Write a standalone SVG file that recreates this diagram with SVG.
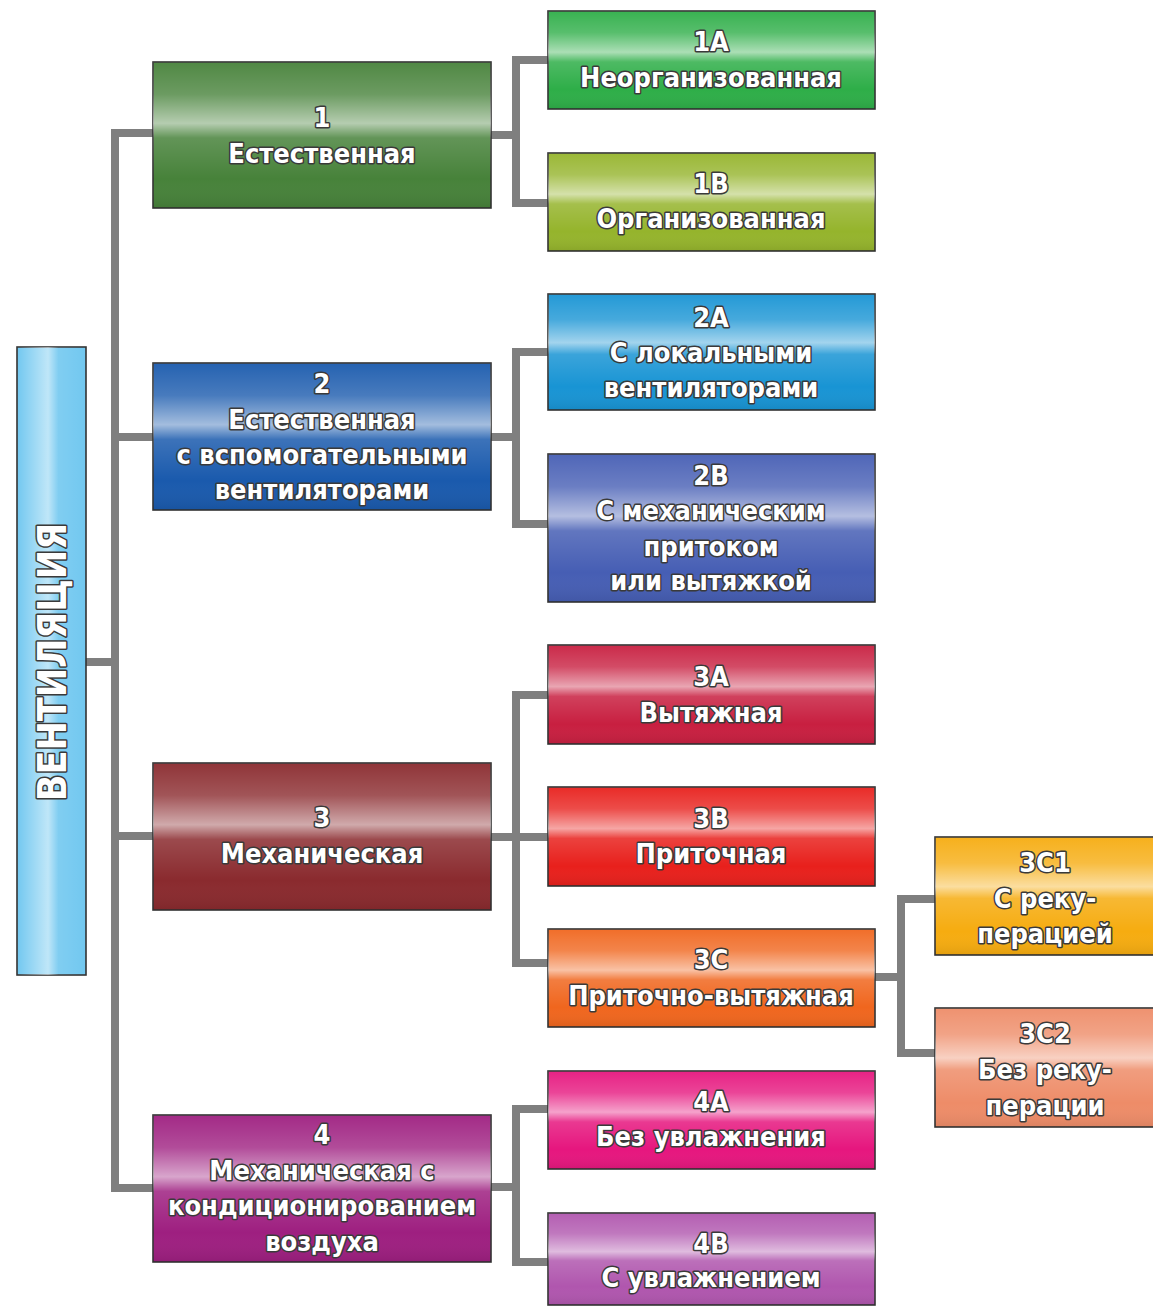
<svg xmlns="http://www.w3.org/2000/svg" width="1153" height="1310" viewBox="0 0 1153 1310">
<defs>
<linearGradient id="gloss" x1="0" y1="0" x2="0" y2="1">
<stop offset="0" stop-color="#fff" stop-opacity="0.05"/>
<stop offset="0.22" stop-color="#fff" stop-opacity="0.2"/>
<stop offset="0.42" stop-color="#fff" stop-opacity="0.6"/>
<stop offset="0.52" stop-color="#fff" stop-opacity="0.15"/>
<stop offset="0.8" stop-color="#fff" stop-opacity="0"/>
<stop offset="1" stop-color="#000" stop-opacity="0.08"/>
</linearGradient>
<linearGradient id="glossH" x1="0" y1="0" x2="1" y2="0">
<stop offset="0" stop-color="#fff" stop-opacity="0"/>
<stop offset="0.45" stop-color="#fff" stop-opacity="0.55"/>
<stop offset="0.6" stop-color="#fff" stop-opacity="0.1"/>
<stop offset="1" stop-color="#fff" stop-opacity="0"/>
</linearGradient>
</defs>
<style>
.box{stroke:#333;stroke-width:1.6}
.gl{fill:url(#gloss)}
.t{font-family:"DejaVu Sans Condensed","DejaVu Sans","Liberation Sans",sans-serif;font-weight:bold;font-size:27px;fill:#fff;stroke:#3a3a3a;stroke-width:3;paint-order:stroke fill;text-anchor:middle;stroke-linejoin:round}
.c{fill:none;stroke:#7f7f7f;stroke-width:8}
</style>
<rect width="1153" height="1310" fill="#fff"/>
<g id="connectors">
<path class="c" d="M86,662 H115 M115,130 V1191 M111,133 H153 M111,437 H153 M111,836 H153 M111,1188 H153"/>
<path class="c" d="M491,135 H516 M548,60 H516 V203 H548"/>
<path class="c" d="M491,437 H516 M548,352 H516 V524 H548"/>
<path class="c" d="M491,837 H548 M548,695 H516 V963 H548"/>
<path class="c" d="M875,977 H901 M935,899 H901 V1053 H935"/>
<path class="c" d="M491,1187 H516 M548,1109 H516 V1262 H548"/>
</g>
<g id="root">
<rect class="box" x="17" y="347" width="69" height="628" fill="#72c8f0"/>
<rect x="17" y="347" width="69" height="628" fill="url(#glossH)"/>
<text class="t" style="font-size:39px" transform="translate(66,662) rotate(-90)">ВЕНТИЛЯЦИЯ</text>
</g>
<g id="n1">
<rect class="box" x="153" y="62" width="338" height="146" fill="#47823a"/>
<rect class="gl" x="153" y="62" width="338" height="146"/>
<text class="t" x="322" y="127">1</text>
<text class="t" x="322" y="163">Естественная</text>
</g>
<g id="n1a">
<rect class="box" x="548" y="11" width="327" height="98" fill="#2eae48"/>
<rect class="gl" x="548" y="11" width="327" height="98"/>
<text class="t" x="711" y="51">1A</text>
<text class="t" x="711" y="87">Неорганизованная</text>
</g>
<g id="n1b">
<rect class="box" x="548" y="153" width="327" height="98" fill="#95b42c"/>
<rect class="gl" x="548" y="153" width="327" height="98"/>
<text class="t" x="711" y="193">1B</text>
<text class="t" x="711" y="228">Организованная</text>
</g>
<g id="n2">
<rect class="box" x="153" y="363" width="338" height="147" fill="#1a5aad"/>
<rect class="gl" x="153" y="363" width="338" height="147"/>
<text class="t" x="322" y="393">2</text>
<text class="t" x="322" y="429">Естественная</text>
<text class="t" x="322" y="464">с вспомогательными</text>
<text class="t" x="322" y="499">вентиляторами</text>
</g>
<g id="n2a">
<rect class="box" x="548" y="294" width="327" height="116" fill="#1894d4"/>
<rect class="gl" x="548" y="294" width="327" height="116"/>
<text class="t" x="711" y="327">2A</text>
<text class="t" x="711" y="362">С локальными</text>
<text class="t" x="711" y="397">вентиляторами</text>
</g>
<g id="n2b">
<rect class="box" x="548" y="454" width="327" height="148" fill="#465eb4"/>
<rect class="gl" x="548" y="454" width="327" height="148"/>
<text class="t" x="711" y="485">2B</text>
<text class="t" x="711" y="520">С механическим</text>
<text class="t" x="711" y="556">притоком</text>
<text class="t" x="711" y="590">или вытяжкой</text>
</g>
<g id="n3">
<rect class="box" x="153" y="763" width="338" height="147" fill="#8a2a2e"/>
<rect class="gl" x="153" y="763" width="338" height="147"/>
<text class="t" x="322" y="827">3</text>
<text class="t" x="322" y="863">Механическая</text>
</g>
<g id="n3a">
<rect class="box" x="548" y="645" width="327" height="99" fill="#c81f40"/>
<rect class="gl" x="548" y="645" width="327" height="99"/>
<text class="t" x="711" y="686">3A</text>
<text class="t" x="711" y="722">Вытяжная</text>
</g>
<g id="n3b">
<rect class="box" x="548" y="787" width="327" height="99" fill="#e8201c"/>
<rect class="gl" x="548" y="787" width="327" height="99"/>
<text class="t" x="711" y="828">3B</text>
<text class="t" x="711" y="863">Приточная</text>
</g>
<g id="n3c">
<rect class="box" x="548" y="929" width="327" height="98" fill="#f0661e"/>
<rect class="gl" x="548" y="929" width="327" height="98"/>
<text class="t" x="711" y="969">3C</text>
<text class="t" x="711" y="1005">Приточно-вытяжная</text>
</g>
<g id="n3c1">
<rect class="box" x="935" y="837" width="222" height="118" fill="#f6ac10"/>
<rect class="gl" x="935" y="837" width="222" height="118"/>
<text class="t" x="1045" y="872">3C1</text>
<text class="t" x="1045" y="908">С реку-</text>
<text class="t" x="1045" y="943">перацией</text>
</g>
<g id="n3c2">
<rect class="box" x="935" y="1008" width="222" height="119" fill="#ee8c68"/>
<rect class="gl" x="935" y="1008" width="222" height="119"/>
<text class="t" x="1045" y="1043">3C2</text>
<text class="t" x="1045" y="1079">Без реку-</text>
<text class="t" x="1045" y="1115">перации</text>
</g>
<g id="n4">
<rect class="box" x="153" y="1115" width="338" height="147" fill="#9e1f80"/>
<rect class="gl" x="153" y="1115" width="338" height="147"/>
<text class="t" x="322" y="1144">4</text>
<text class="t" x="322" y="1180">Механическая с</text>
<text class="t" x="322" y="1215">кондиционированием</text>
<text class="t" x="322" y="1251">воздуха</text>
</g>
<g id="n4a">
<rect class="box" x="548" y="1071" width="327" height="98" fill="#e6167e"/>
<rect class="gl" x="548" y="1071" width="327" height="98"/>
<text class="t" x="711" y="1111">4A</text>
<text class="t" x="711" y="1146">Без увлажнения</text>
</g>
<g id="n4b">
<rect class="box" x="548" y="1213" width="327" height="92" fill="#b056ae"/>
<rect class="gl" x="548" y="1213" width="327" height="92"/>
<text class="t" x="711" y="1253">4B</text>
<text class="t" x="711" y="1287">С увлажнением</text>
</g>
</svg>
